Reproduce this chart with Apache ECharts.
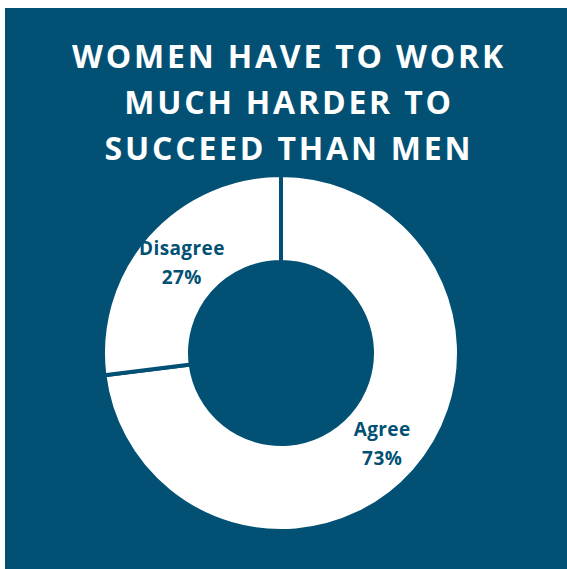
<!DOCTYPE html>
<html><head><meta charset="utf-8">
<script src="https://cdn.jsdelivr.net/npm/echarts@6/dist/echarts.min.js"></script>
<style>html,body{margin:0;padding:0;background:#fff}#c{width:567px;height:569px}
#c svg text[style*="32px"]{letter-spacing:2.8px}
#c svg text[style*="19px"]{letter-spacing:0.4px}
</style>
</head><body><div id="c"></div>
<script>
const titleLines = ["WOMEN HAVE TO WORK", "MUCH HARDER TO", "SUCCEED THAN MEN"];
const categories = ["Agree", "Disagree"];
const values = [73, 27];

const BLUE = '#025174';
const chart = echarts.init(document.getElementById('c'), null, {renderer: 'svg'});
chart.setOption({
  backgroundColor: '#ffffff',
  animation: false,
  graphic: [{type: 'rect', shape: {x: 5, y: 8, width: 562, height: 561}, style: {fill: BLUE}, z: -10}],
  title: {
    text: titleLines.join('\n'),
    left: 284, top: 27, textAlign: 'center',
    textStyle: {color: '#ffffff', fontFamily: 'Open Sans', fontWeight: 'bold', fontSize: 32, lineHeight: 46}
  },
  series: [{
    type: 'pie',
    center: [281, 353],
    radius: [91, 178],
    startAngle: 90,
    clockwise: true,
    data: categories.map((c, i) => ({
      name: c, value: values[i],
      label: i === 1 ? {padding: [9, 0, 0, 8]} : {padding: [0, 4, 0, 0]}
    })),
    itemStyle: {color: '#ffffff', borderColor: BLUE, borderWidth: 4},
    label: {
      position: 'inside',
      formatter: p => p.name + '\n' + p.value + '%',
      color: BLUE, fontFamily: 'Open Sans', fontWeight: 'bold', fontSize: 19, lineHeight: 29
    },
    labelLine: {show: false},
    emphasis: {disabled: true}
  }]
});
</script></body></html>
